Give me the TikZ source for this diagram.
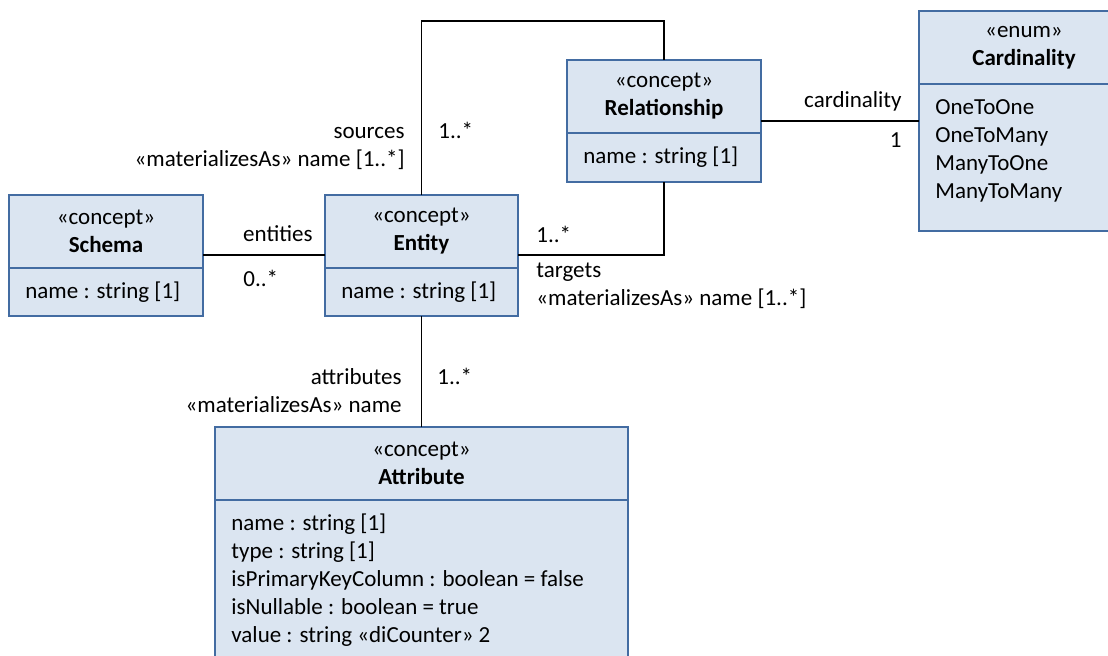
\documentclass[tikz,border=0pt]{standalone}
\usepackage{fontspec}
\setmainfont{Carlito}
\usetikzlibrary{calc}
\definecolor{boxfill}{RGB}{219,229,241}
\definecolor{boxline}{RGB}{67,108,162}
\tikzset{
  umlbox/.style={draw=boxline, fill=boxfill, line width=1pt, inner sep=0pt, outer sep=0pt, anchor=north west},
  assoc/.style={draw=black, line width=0.8pt},
  lbl/.style={inner sep=0pt},
}
\newcommand*{\UmlClass}[8]{% #1 = name, #2/#3 = top left, #4 = width, #5 = body height, #6/#7 = stereotype/title, #8 = list of rows
\node [umlbox, align=center, minimum width=#4*0.5pt, minimum height=36.5pt]
  (#1) at (#2,#3) {«#6»\\\textbf{#7}};
\node [umlbox, minimum width=#4*0.5pt, minimum height=#5*0.5pt]
  (#1-body) at (#1.south west) {};
\foreach \row [count=\i] in {#8} {
\node [lbl, anchor=base west]
  (#1-row\i) at ($(#1-body.north west)+(16,2+28*\i)$) {\row};
}%
}

\begin{document}
\begin{tikzpicture}[x=0.5pt, y=-0.5pt, font=\fontsize{11.5}{14}\selectfont]

            \clip (0,0) rectangle (1108,655);
            % classes
            \UmlClass{schema}{9}{195}{194}{48}{concept}{Schema}{name : string [1]}
            \UmlClass{entity}{325}{195}{193}{48}{concept}{Entity}{name : string [1]}
            \UmlClass{rel}{567}{60}{194}{49}{concept}{Relationship}{name : string [1]}
            \UmlClass{card}{919}{11}{210}{147}{enum}{Cardinality}{OneToOne, OneToMany, ManyToOne, ManyToMany}
            \UmlClass{attr}{215}{427}{413}{160}{concept}{Attribute}{name : string [1], type : string [1], isPrimaryKeyColumn : boolean = false, isNullable : boolean = true, value : string «diCounter» 2}
            % associations
            \draw [assoc] ($(schema.south east)+(0,-13)$) coordinate (schemaend) -- (schemaend -| entity.west);
            \draw [assoc] (entity.north) -- ++(0,-174) -| (rel.north);
            \draw [assoc] ($(entity.south east)+(0,-13)$) -| (rel-body.south);
            \draw [assoc] ($(rel.south east)+(0,-12)$) coordinate (relend) -- (relend -| card-body.west);
            \draw [assoc] (entity-body.south) -- (attr.north);
            % role names and multiplicities
            \node [lbl, anchor=base east] (entities) at (313,241) {entities};
            \node [lbl, anchor=base west] (entitiesmult) at (243,286) {0..*};
            \node [lbl, anchor=base east] (sources) at (405,138) {sources};
            \node [lbl, anchor=base east] (sourcesmat) at (405,166) {«materializesAs» name [1..*]};
            \node [lbl, anchor=base west] (sourcesmult) at (438,138) {1..*};
            \node [lbl, anchor=base west] (targetsmult) at (536,242) {1..*};
            \node [lbl, anchor=base west] (targets) at (536,277) {targets};
            \node [lbl, anchor=base west] (targetsmat) at (536,305) {«materializesAs» name [1..*]};
            \node [lbl, anchor=base east] (cardrole) at (902,107) {cardinality};
            \node [lbl, anchor=base east] (cardmult) at (902,147) {1};
            \node [lbl, anchor=base east] (attributes) at (402,384) {attributes};
            \node [lbl, anchor=base east] (attributesmat) at (402,412) {«materializesAs» name};
            \node [lbl, anchor=base west] (attributesmult) at (437,384) {1..*};
        \end{tikzpicture}
\end{document}
